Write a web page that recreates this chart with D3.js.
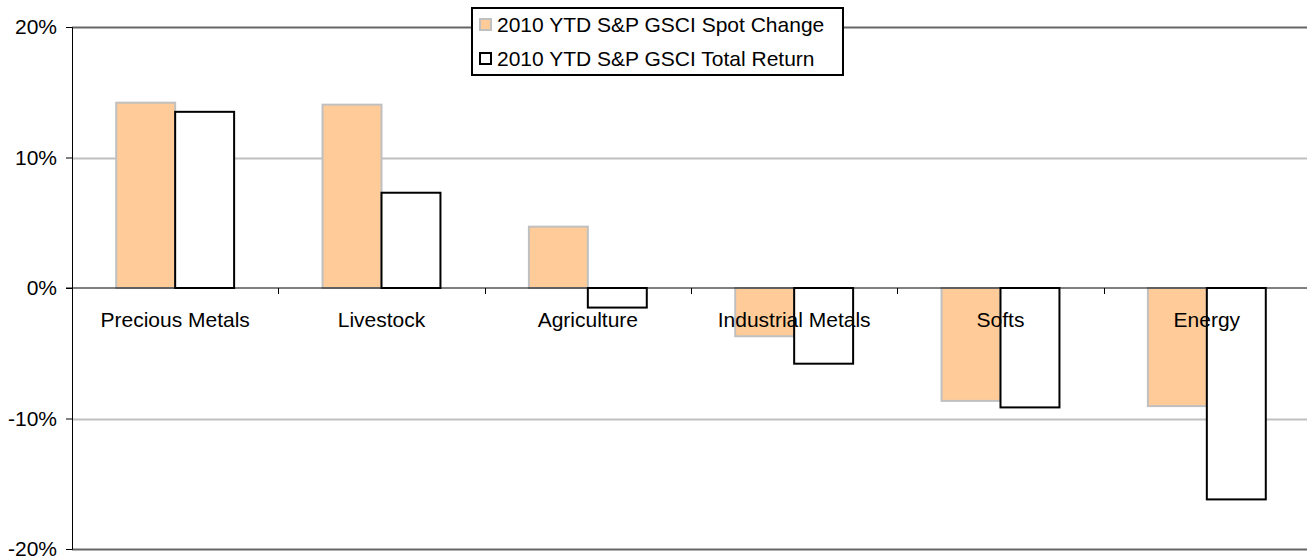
<!DOCTYPE html>
<html>
<head>
<meta charset="utf-8">
<script src="https://cdn.jsdelivr.net/npm/d3@7"></script>
<style>
  body { margin: 0; background: #fff; }
  svg { display: block; font-family: "Liberation Sans", Arial, sans-serif; }
</style>
</head>
<body>
<div id="chart"></div>
<script>
const categories = ["Precious Metals", "Livestock", "Agriculture", "Industrial Metals", "Softs", "Energy"]
const spotChange = [14.2, 14.05, 4.7, -3.7, -8.65, -9.05]
const totalReturn = [13.5, 7.3, -1.5, -5.8, -9.15, -16.2]
const yTicks = [-20, -10, 0, 10, 20]
const seriesNames = ["2010 YTD S&P GSCI Spot Change", "2010 YTD S&P GSCI Total Return"]

const WIDTH = 1307
const HEIGHT = 558
const FONT = "21px"
const margin = { top: 27, right: -3, bottom: 9, left: 72 }

const svg = d3.select("#chart")
  .append("svg")
  .attr("width", WIDTH)
  .attr("height", HEIGHT)

const x = d3.scaleBand()
  .domain(categories)
  .range([margin.left, WIDTH - margin.right])

const inner = d3.scaleBand()
  .domain([0, 1])
  .range([0, x.bandwidth()])
  .paddingOuter(0.75)
  .paddingInner(0)

const y = d3.scaleLinear()
  .domain([-20, 20])
  .range([HEIGHT - margin.bottom, margin.top])

// Gridlines
svg.append("g")
  .selectAll("line")
  .data(yTicks.filter(d => d !== 0))
  .join("line")
  .attr("x1", margin.left)
  .attr("x2", WIDTH - margin.right)
  .attr("y1", d => Math.round(y(d)) + 0.5)
  .attr("y2", d => Math.round(y(d)) + 0.5)
  .attr("stroke", d => Math.abs(d) === 20 ? "#666" : "#c0c0c0")
  .attr("stroke-width", 2)

// Y axis
const yAxis = svg.append("g")
  .attr("transform", `translate(${margin.left},0)`)
  .call(d3.axisLeft(y).tickValues(yTicks).tickSize(6).tickPadding(9).tickFormat(d => d + "%"))
yAxis.select(".domain").attr("stroke", "#000")
yAxis.selectAll(".tick line").attr("stroke", "#000")
yAxis.selectAll("text")
  .attr("font-size", FONT)
  .attr("font-family", "Liberation Sans, Arial, sans-serif")
  .attr("fill", "#000")

// Bars
const groups = svg.append("g")
  .selectAll("g")
  .data(categories)
  .join("g")
  .attr("transform", d => `translate(${x(d)},0)`)

groups.append("rect")
  .attr("x", inner(0))
  .attr("width", inner.bandwidth())
  .attr("y", (d, i) => y(Math.max(0, spotChange[i])))
  .attr("height", (d, i) => Math.abs(y(spotChange[i]) - y(0)))
  .attr("fill", "#ffcc99")
  .attr("stroke", "#c0c0c0")
  .attr("stroke-width", 2)

groups.append("rect")
  .attr("x", inner(1))
  .attr("width", inner.bandwidth())
  .attr("y", (d, i) => y(Math.max(0, totalReturn[i])))
  .attr("height", (d, i) => Math.abs(y(totalReturn[i]) - y(0)))
  .attr("fill", "#fff")
  .attr("stroke", "#000")
  .attr("stroke-width", 2)

// Zero axis with category ticks
const xAxis = svg.append("g")
  .attr("transform", `translate(0,${y(0)})`)
xAxis.append("line")
  .attr("x1", margin.left - 6)
  .attr("x2", WIDTH - margin.right)
  .attr("stroke", "#000")
  .attr("stroke-width", 1)
xAxis.selectAll(".cat-tick")
  .data(categories.slice(1))
  .join("line")
  .attr("class", "cat-tick")
  .attr("x1", d => Math.round(x(d)) + 0.5)
  .attr("x2", d => Math.round(x(d)) + 0.5)
  .attr("y1", 0)
  .attr("y2", 6)
  .attr("stroke", "#000")

xAxis.selectAll(".cat-label")
  .data(categories)
  .join("text")
  .attr("class", "cat-label")
  .attr("x", d => x(d) + x.bandwidth() / 2)
  .attr("y", 39)
  .attr("text-anchor", "middle")
  .attr("font-size", FONT)
  .attr("fill", "#000")
  .text(d => d)

// Legend
const legend = svg.append("g").attr("transform", "translate(472,8)")
legend.append("rect")
  .attr("width", 371)
  .attr("height", 67)
  .attr("fill", "#fff")
  .attr("stroke", "#000")
  .attr("stroke-width", 2)

const items = legend.selectAll("g")
  .data(seriesNames)
  .join("g")
  .attr("transform", (d, i) => `translate(8,${17 + i * 34})`)

items.append("rect")
  .attr("x", 0)
  .attr("y", -6)
  .attr("width", 11)
  .attr("height", 11)
  .attr("fill", (d, i) => i === 0 ? "#ffcc99" : "#fff")
  .attr("stroke", (d, i) => i === 0 ? "#c0c0c0" : "#000")
  .attr("stroke-width", 2)

items.append("text")
  .attr("x", 17)
  .attr("y", 7)
  .attr("font-size", FONT)
  .attr("fill", "#000")
  .text(d => d)
</script>
</body>
</html>
